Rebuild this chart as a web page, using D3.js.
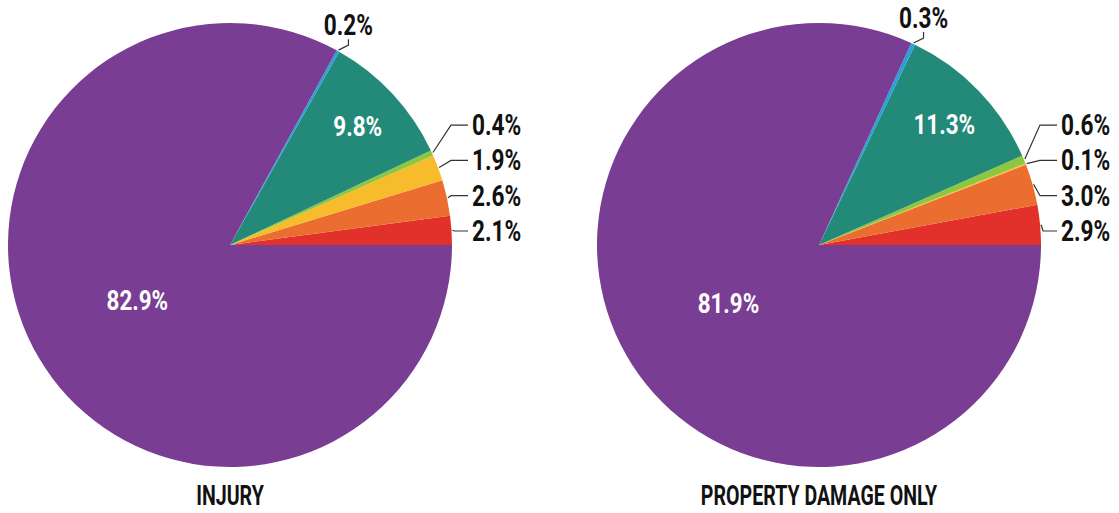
<!DOCTYPE html>
<html>
<head>
<meta charset="utf-8">
<script src="https://cdn.jsdelivr.net/npm/d3@7"></script>
<style>
  body { margin: 0; background: #fff; }
  text { font-family: Roboto, "Liberation Sans", sans-serif; font-weight: 700; }
</style>
</head>
<body>
<div id="chart"></div>
<script>
(function() {
    var width = 1119,
        height = 513;

    // slices in drawing order, counter-clockwise from 3 o'clock
    var categories = ["red", "orange", "yellow", "green", "teal", "blue", "purple"];
    var colors = ["#e2312a", "#ec6d30", "#f7bc2c", "#8dc63f", "#238a7a", "#2a9fd8", "#793d93"];
    var injuryValues = [2.1, 2.6, 1.9, 0.4, 9.8, 0.2, 82.9];
    var propertyValues = [2.9, 3.0, 0.1, 0.6, 11.3, 0.3, 81.9];
    var titles = ["INJURY", "PROPERTY DAMAGE ONLY"];

    var svg = d3.select("#chart")
        .append("svg")
        .attr("width", width)
        .attr("height", height);

    var radius = 222;

    var pie = d3.pie()
        .sort(null)
        .startAngle(Math.PI / 2)
        .endAngle(Math.PI / 2 - 2 * Math.PI)
        .value(function(d) { return d; });

    var arc = d3.arc().innerRadius(0).outerRadius(radius);

    // condensed look: scale text horizontally around its anchor
    function label(g, x, y, txt, size, anchor, fill, sx) {
        g.append("text")
            .attr("transform", "translate(" + x + "," + y + ") scale(" + sx + ",1)")
            .attr("text-anchor", anchor)
            .style("font-size", size + "px")
            .style("fill", fill)
            .text(txt);
    }

    function drawPie(values, cx, title) {
        var g = svg.append("g");
        var arcs = pie(values);

        g.append("g")
            .attr("transform", "translate(" + cx + "," + 245 + ")")
            .selectAll("path")
            .data(arcs)
            .enter()
            .append("path")
            .attr("d", arc)
            .style("fill", function(d, i) { return colors[i]; });

        var lineEnd = cx + radius + 16;
        var stack = 0;

        arcs.forEach(function(d, i) {
            var mid = (d.startAngle + d.endAngle) / 2;
            var txt = d3.format(".1f")(d.value) + "%";
            var share = Math.abs(d.endAngle - d.startAngle) / (2 * Math.PI);

            if (share > 0.05) {
                // inside label
                var rr = share > 0.5 ? radius * 0.485 : radius * 0.785;
                var lx = cx + Math.sin(mid) * rr,
                    ly = 245 - Math.cos(mid) * rr;
                label(g, lx, ly + 10, txt, 28, "middle", "#fff", 0.8);
                return;
            }

            var sx0 = cx + Math.sin(mid) * (radius + 1),
                sy0 = 245 - Math.cos(mid) * (radius + 1);

            if (categories[i] === "blue") {
                // label above the pie
                var ex = sx0 + 10, ey = sy0 - 5;
                g.append("path")
                    .attr("d", "M" + sx0 + "," + sy0 + "L" + ex + "," + ey + "L" + ex + "," + (ey - 6))
                    .style("fill", "none")
                    .style("stroke", "#333")
                    .style("stroke-width", 1.2);
                label(g, ex, ey - 10, txt, 29, "middle", "#111", 0.78);
                return;
            }

            // stacked labels on the right
            var y = 245 - 14 - stack * 35.3;
            stack++;
            var elbowX = Math.max(sx0 + 2, lineEnd - 17);
            g.append("path")
                .attr("d", "M" + sx0 + "," + sy0 + "L" + elbowX + "," + y + "L" + lineEnd + "," + y)
                .style("fill", "none")
                .style("stroke", "#333")
                .style("stroke-width", 1.2);
            label(g, lineEnd + 4, y + 10, txt, 29, "start", "#111", 0.78);
        });

        label(g, cx, 505, title, 28, "middle", "#111", 0.7);
    }

    drawPie(injuryValues, 230, titles[0]);
    drawPie(propertyValues, 819, titles[1]);
})();
</script>
</body>
</html>
